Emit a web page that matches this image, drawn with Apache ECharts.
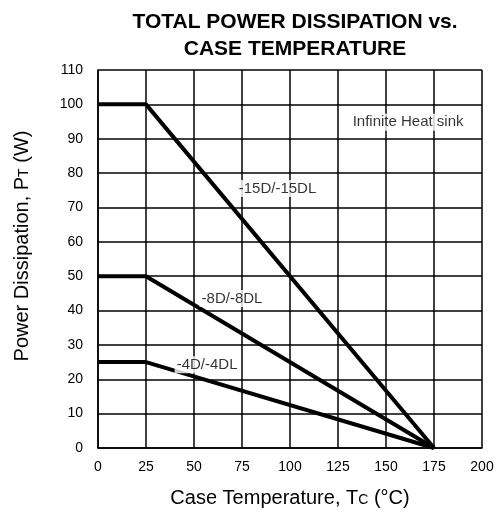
<!DOCTYPE html>
<html><head><meta charset="utf-8">
<script src="https://cdn.jsdelivr.net/npm/echarts@6/dist/echarts.min.js"></script>
<style>html,body{margin:0;padding:0;background:#fff}#c{width:500px;height:513px}</style>
</head><body><div id="c"></div>
<script>
const xTicks = [0,25,50,75,100,125,150,175,200];
const yTicks = [0,10,20,30,40,50,60,70,80,90,100,110];
const s15 = [[0,100],[25,100],[175,0]];
const s8 = [[0,50],[25,50],[175,0]];
const s4 = [[0,25],[25,25],[175,0]];
const labels = [
  {name:'-15D/-15DL', pos:[93.5,75.5]},
  {name:'-8D/-8DL', pos:[69.8,43.5]},
  {name:'-4D/-4DL', pos:[56.8,24.2]},
  {name:'Infinite Heat sink', pos:[161.5,94.8]}
];
const F = '"Liberation Sans", Arial, sans-serif';
const chart = echarts.init(document.getElementById('c'));
const lineS = (d)=>({type:'line', data:d, symbol:'none', lineStyle:{color:'#000', width:4}, z:3, silent:true});
chart.setOption({
  animation:false,
  title:{text:'TOTAL POWER DISSIPATION vs.\nCASE TEMPERATURE', left:290, top:4, textAlign:'center',
    textStyle:{fontFamily:F, fontWeight:'bold', fontSize:21, lineHeight:27, color:'#000'}},
  grid:{left:98, right:18, top:70, bottom:64},
  xAxis:{type:'value', min:0, max:200, interval:25,
    axisLine:{show:true, lineStyle:{color:'#000', width:1.5}}, axisTick:{show:false},
    splitLine:{show:true, lineStyle:{color:'#000', width:1.5}},
    axisLabel:{fontFamily:F, fontSize:14, color:'#000', margin:12},
    name:'Case Temperature, T{s|C} (°C)', nameLocation:'middle', nameGap:40,
    nameTextStyle:{fontFamily:F, fontSize:20, color:'#000', rich:{s:{fontFamily:F, fontSize:14, color:'#000', verticalAlign:'bottom', padding:[0,0,1,0]}}}},
  yAxis:{type:'value', min:0, max:110, interval:10,
    axisLine:{show:true, lineStyle:{color:'#000', width:1.5}}, axisTick:{show:false},
    splitLine:{show:true, lineStyle:{color:'#000', width:1.5}},
    axisLabel:{fontFamily:F, fontSize:14, color:'#000', margin:15},
    name:'Power Dissipation, P{s|T} (W)', nameLocation:'middle', nameGap:66,
    nameTextStyle:{fontFamily:F, fontSize:20, color:'#000', padding:[0,0,0,26], rich:{s:{fontFamily:F, fontSize:14, color:'#000', verticalAlign:'bottom', padding:[0,0,1,0]}}}},
  series:[lineS(s15), lineS(s8), lineS(s4),
    {type:'scatter', symbolSize:0, z:5, silent:true,
     data:labels.map(l=>({name:l.name, value:l.pos})),
     label:{show:true, position:'inside', formatter:p=>p.name, fontFamily:F, fontSize:15, color:'#000', backgroundColor:'#fff', padding:[1,2]}}
  ]
});
</script></body></html>
